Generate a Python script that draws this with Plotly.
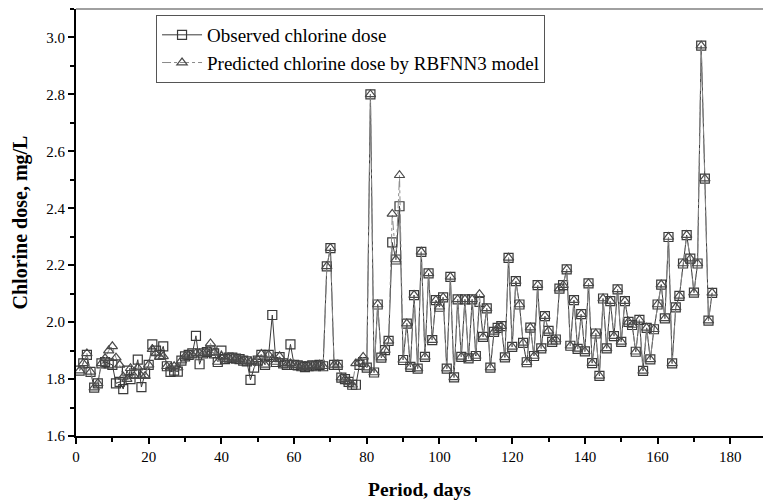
import plotly.graph_objects as go

days = list(range(1, 176))

observed = [
    1.83, 1.855, 1.885, 1.825, 1.77, 1.785, 1.855, 1.86, 1.855, 1.85,
    1.785, 1.79, 1.765, 1.83, 1.80, 1.82, 1.868, 1.772, 1.82, 1.85,
    1.922, 1.90, 1.885, 1.915, 1.845, 1.825, 1.83, 1.826, 1.865, 1.88,
    1.885, 1.89, 1.952, 1.852, 1.89, 1.895, 1.90, 1.89, 1.86, 1.90,
    1.87, 1.875, 1.875, 1.872, 1.87, 1.865, 1.862, 1.797, 1.84, 1.865,
    1.885, 1.85, 1.885, 2.025, 1.86, 1.877, 1.855, 1.85, 1.922, 1.85,
    1.848, 1.845, 1.842, 1.845, 1.848, 1.845, 1.85, 1.845, 2.196, 2.26,
    1.85, 1.85, 1.805, 1.80, 1.79, 1.78, 1.78, 1.85, 1.86, 1.84,
    2.80, 1.823, 2.062, 1.875, 1.902, 1.934, 2.28, 2.22, 2.407, 1.867,
    1.995, 1.843, 2.095, 1.837, 2.247, 1.878, 2.171, 1.937, 2.077, 2.054,
    2.087, 1.837, 2.159, 1.806, 2.08, 1.878, 2.08, 1.873, 2.08, 1.881,
    2.071, 1.948, 2.048, 1.84, 1.966, 1.98, 1.986, 1.876, 2.226, 1.913,
    2.144, 2.062, 1.927, 1.859, 1.981, 1.881, 2.13, 1.908, 2.021, 1.969,
    1.931, 1.939, 2.118, 2.13, 2.185, 1.917, 2.077, 1.906, 2.028, 1.897,
    2.136, 1.856, 1.96, 1.811, 2.083, 1.908, 2.074, 1.951, 2.115, 1.931,
    2.074, 2.001, 1.99, 1.896, 2.008, 1.829, 1.98, 1.869, 1.975, 2.062,
    2.132, 2.013, 2.299, 1.855, 2.052, 2.092, 2.206, 2.306, 2.223, 2.104,
    2.206, 2.971, 2.504, 2.005, 2.103,
]

predicted = [
    1.83, 1.855, 1.89, 1.825, 1.77, 1.785, 1.855, 1.873, 1.90, 1.915,
    1.875, 1.85, 1.808, 1.80, 1.838, 1.81, 1.84, 1.81, 1.81, 1.85,
    1.905, 1.89, 1.878, 1.88, 1.845, 1.84, 1.845, 1.84, 1.865, 1.88,
    1.885, 1.885, 1.89, 1.89, 1.89, 1.895, 1.925, 1.893, 1.86, 1.88,
    1.87, 1.875, 1.875, 1.872, 1.87, 1.865, 1.862, 1.86, 1.86, 1.869,
    1.888, 1.85, 1.885, 1.87, 1.86, 1.88, 1.855, 1.85, 1.855, 1.85,
    1.848, 1.845, 1.842, 1.845, 1.848, 1.845, 1.85, 1.845, 2.196, 2.26,
    1.85, 1.85, 1.805, 1.80, 1.79, 1.78, 1.855, 1.86, 1.878, 1.84,
    2.80, 1.823, 2.062, 1.875, 1.902, 1.934, 2.38, 2.22, 2.516, 1.867,
    1.995, 1.843, 2.095, 1.837, 2.247, 1.878, 2.171, 1.937, 2.077, 2.054,
    2.087, 1.837, 2.159, 1.806, 2.08, 1.878, 2.08, 1.873, 2.08, 1.881,
    2.098, 1.948, 2.048, 1.84, 1.966, 1.98, 1.986, 1.876, 2.226, 1.913,
    2.144, 2.062, 1.927, 1.859, 1.981, 1.881, 2.13, 1.908, 2.021, 1.969,
    1.931, 1.939, 2.118, 2.13, 2.185, 1.917, 2.077, 1.906, 2.028, 1.897,
    2.136, 1.856, 1.96, 1.811, 2.083, 1.908, 2.074, 1.951, 2.115, 1.931,
    2.074, 2.001, 1.99, 1.896, 2.008, 1.829, 1.98, 1.869, 1.975, 2.062,
    2.132, 2.013, 2.299, 1.855, 2.052, 2.092, 2.206, 2.306, 2.223, 2.104,
    2.206, 2.971, 2.504, 2.005, 2.103,
]

x_ticks = [0, 20, 40, 60, 80, 100, 120, 140, 160, 180]
y_ticks = [1.6, 1.8, 2.0, 2.2, 2.4, 2.6, 2.8, 3.0]

FONT = "Liberation Serif, Times New Roman, serif"

fig = go.Figure()
fig.add_trace(go.Scatter(
    x=days, y=observed, mode="lines+markers",
    name="Observed chlorine dose",
    line=dict(color="#3a3a3a", width=1),
    marker=dict(symbol="square-open", size=9, color="#3a3a3a",
                line=dict(width=1.2, color="#3a3a3a")),
))
fig.add_trace(go.Scatter(
    x=days, y=predicted, mode="lines+markers",
    name="Predicted chlorine dose by RBFNN3 model",
    line=dict(color="#8a8a8a", width=1, dash="dashdot"),
    marker=dict(symbol="triangle-up-open", size=9, color="#4a4a4a",
                line=dict(width=1.2, color="#4a4a4a")),
))

fig.add_shape(type="line", xref="paper", yref="paper", x0=0, x1=1, y0=1, y1=1,
              line=dict(color="#a0a0a0", width=2))

fig.update_layout(
    width=763, height=500,
    margin=dict(l=76, r=0, t=9, b=64),
    paper_bgcolor="white", plot_bgcolor="white",
    font=dict(family=FONT, color="black", size=15),
    showlegend=True,
    legend=dict(
        x=0.1165, y=0.986, xanchor="left", yanchor="top",
        bgcolor="white", bordercolor="#555555", borderwidth=1,
        font=dict(family=FONT, size=19, color="black"),
        tracegroupgap=0, itemwidth=40,
    ),
    xaxis=dict(
        range=[0, 189], tickvals=x_ticks, ticks="outside", ticklen=6, tickwidth=2,
        tickcolor="black", showline=True, linecolor="black", linewidth=2,
        showgrid=False, zeroline=False,
        minor=dict(dtick=10, tick0=0, ticks="outside", ticklen=4, tickwidth=1.5, tickcolor="black"),
        title=dict(text="<b>Period, days</b>", font=dict(family=FONT, size=19.5), standoff=18),
        automargin=False,
    ),
    yaxis=dict(
        range=[1.6, 3.1], tickvals=y_ticks, tickformat=".1f", ticks="outside", ticklen=6, tickwidth=2,
        tickcolor="black", showline=True, linecolor="black", linewidth=2,
        showgrid=False, zeroline=False,
        minor=dict(dtick=0.1, tick0=1.6, ticks="outside", ticklen=4, tickwidth=1.5, tickcolor="black"),
        title=dict(text="<b>Chlorine dose, mg/L</b>", font=dict(family=FONT, size=20), standoff=13),
        automargin=False,
    ),
)

fig.write_html("out.html")
